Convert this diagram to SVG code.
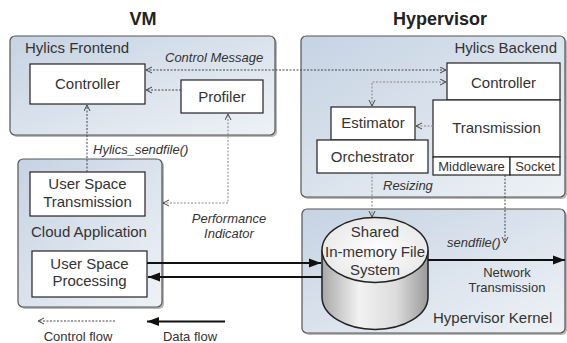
<svg xmlns="http://www.w3.org/2000/svg" width="567" height="343" viewBox="0 0 567 343">
<defs>
<linearGradient id="pg" x1="0" y1="0" x2="1" y2="1">
<stop offset="0" stop-color="#c6d3e3"/>
<stop offset="1" stop-color="#eef2f6"/>
</linearGradient>
<linearGradient id="cyl" x1="0" y1="0" x2="1" y2="0">
<stop offset="0" stop-color="#a8a8a8"/>
<stop offset="0.35" stop-color="#f2f2f2"/>
<stop offset="0.7" stop-color="#dcdcdc"/>
<stop offset="1" stop-color="#9a9a9a"/>
</linearGradient>
<radialGradient id="cyltop" cx="0.5" cy="0.5" r="0.6">
<stop offset="0" stop-color="#ffffff"/>
<stop offset="1" stop-color="#e6e6e6"/>
</radialGradient>
<marker id="oa" markerWidth="8" markerHeight="8" refX="6.5" refY="3.5" orient="auto-start-reverse" markerUnits="userSpaceOnUse">
<path d="M0.5,0.5 L6.5,3.5 L0.5,6.5" fill="none" stroke="#444" stroke-width="1"/>
</marker>
<marker id="fa" markerWidth="14" markerHeight="10" refX="12" refY="5" orient="auto-start-reverse" markerUnits="userSpaceOnUse">
<path d="M0,0.5 L12,5 L0,9.5 z" fill="#111"/>
</marker>
</defs>
<style>
.panel{fill:url(#pg);stroke:#555;stroke-width:1.2}
.shadow{fill:#b8b8b8}
.box{fill:#fff;stroke:#222;stroke-width:1.2}
.t{font-family:"Liberation Sans",Arial,sans-serif;font-size:15px;fill:#333}
.c{text-anchor:middle}
.it{font-family:"Liberation Sans",Arial,sans-serif;font-style:italic;font-size:13px;fill:#333}
.sm{font-family:"Liberation Sans",Arial,sans-serif;font-size:13px;fill:#333}
.title{font-family:"Liberation Sans",Arial,sans-serif;font-weight:bold;font-size:18px;fill:#222;text-anchor:middle}
.ctl{fill:none;stroke:#444;stroke-width:1;stroke-dasharray:2 1.5}
.ctl2{fill:none;stroke:#888;stroke-width:1;stroke-dasharray:2 1.5}
.data{fill:none;stroke:#111;stroke-width:2}
</style>

<text class="title" x="143" y="25">VM</text>
<text class="title" x="440" y="25">Hypervisor</text>

<g id="hylics-frontend">
<rect class="shadow" x="12" y="38" width="265" height="99" rx="5"/>
<rect class="panel" x="10" y="36" width="265" height="99" rx="5"/>
<text class="t" x="25" y="53">Hylics Frontend</text>
</g>

<g id="hylics-backend">
<rect class="shadow" x="303" y="38" width="264" height="161" rx="5"/>
<rect class="panel" x="301" y="36" width="264" height="161" rx="5"/>
<text class="t" x="557" y="53" text-anchor="end">Hylics Backend</text>
</g>

<g id="cloud-application">
<rect class="shadow" x="20" y="161" width="144" height="148" rx="5"/>
<rect class="panel" x="18" y="159" width="144" height="148" rx="5"/>
<text class="t c" x="89" y="237">Cloud Application</text>
</g>

<g id="hypervisor-kernel">
<rect class="shadow" x="304" y="211" width="263" height="124" rx="5"/>
<rect class="panel" x="302" y="209" width="263" height="124" rx="5"/>
<text class="t" x="433" y="323">Hypervisor Kernel</text>
</g>

<g id="fe-controller">
<rect class="box" x="30" y="64" width="115" height="40"/>
<text class="t c" x="87.5" y="89">Controller</text>
</g>

<g id="profiler">
<rect class="box" x="181" y="80" width="82" height="33"/>
<text class="t c" x="222" y="102">Profiler</text>
</g>

<g id="user-space-transmission">
<rect class="box" x="30" y="172" width="115" height="44"/>
<text class="t c" x="87.5" y="189">User Space</text>
<text class="t c" x="87.5" y="207">Transmission</text>
</g>

<g id="user-space-processing">
<rect class="box" x="32" y="251" width="115" height="46"/>
<text class="t c" x="89.5" y="269">User Space</text>
<text class="t c" x="89.5" y="286">Processing</text>
</g>

<g id="be-controller">
<rect class="box" x="447" y="63" width="113" height="37"/>
<text class="t c" x="503.5" y="88">Controller</text>
</g>

<g id="transmission">
<rect class="box" x="433" y="100" width="127" height="57"/>
<text class="t c" x="496.5" y="133">Transmission</text>
</g>

<g id="middleware">
<rect class="box" x="433" y="157" width="77" height="18"/>
<text class="sm c" x="471.5" y="171">Middleware</text>
</g>

<g id="socket">
<rect class="box" x="510" y="157" width="50" height="18"/>
<text class="sm c" x="535" y="171">Socket</text>
</g>

<g id="estimator">
<rect class="box" x="331" y="107" width="84" height="33"/>
<text class="t c" x="373" y="128">Estimator</text>
</g>

<g id="orchestrator">
<rect class="box" x="317" y="140" width="111" height="33"/>
<text class="t c" x="372.5" y="162">Orchestrator</text>
</g>

<g id="shared-fs">
<path d="M322,250 L322,297 A53,32.5 0 0 0 428,297 L428,250" fill="url(#cyl)" stroke="#222" stroke-width="1.5"/>
<ellipse cx="375" cy="250" rx="53" ry="32.5" fill="url(#cyltop)" stroke="#222" stroke-width="1.5"/>
<text class="t c" x="375" y="237">Shared</text>
<text class="t c" x="375" y="257">In-memory File</text>
<text class="t c" x="375" y="275">System</text>
</g>

<g id="connectors">
<line class="ctl" x1="146" y1="70" x2="446" y2="70" marker-start="url(#oa)" marker-end="url(#oa)"/>
<line class="ctl" x1="181" y1="90" x2="146" y2="90" marker-end="url(#oa)"/>
<line class="ctl" x1="87" y1="172" x2="87" y2="105" marker-end="url(#oa)"/>
<path class="ctl2" d="M163,203 L228,203 L228,114" marker-start="url(#oa)" marker-end="url(#oa)"/>
<path class="ctl2" d="M372,106 L372,82 L446,82" marker-start="url(#oa)" marker-end="url(#oa)"/>
<line class="ctl2" x1="433" y1="126" x2="416" y2="126" marker-end="url(#oa)"/>
<line class="ctl2" x1="372" y1="173" x2="372" y2="217" marker-end="url(#oa)"/>
<line class="ctl" x1="505" y1="175" x2="505" y2="243" marker-end="url(#oa)"/>
<line class="data" x1="147" y1="263" x2="321" y2="263" marker-end="url(#fa)"/>
<line class="data" x1="322" y1="277" x2="148" y2="277" marker-end="url(#fa)"/>
<line class="data" x1="428" y1="260" x2="565" y2="260" marker-end="url(#fa)"/>
<line class="ctl" x1="115" y1="321" x2="38" y2="321" marker-end="url(#oa)"/>
<line class="data" x1="225" y1="321.5" x2="147" y2="321.5" marker-end="url(#fa)"/>
</g>

<g id="labels">
<text class="it" x="165" y="62">Control Message</text>
<text class="it" x="93" y="154">Hylics_sendfile()</text>
<text class="it c" x="229" y="223">Performance</text>
<text class="it c" x="229" y="238">Indicator</text>
<text class="it" x="383" y="190">Resizing</text>
<text class="it" x="447" y="247">sendfile()</text>
<text class="sm c" x="507" y="277" font-size="12">Network</text>
<text class="sm c" x="507" y="292" font-size="12">Transmission</text>
<text class="sm c" x="78" y="341" font-size="14">Control flow</text>
<text class="sm c" x="190" y="341" font-size="14">Data flow</text>
</g>
</svg>
